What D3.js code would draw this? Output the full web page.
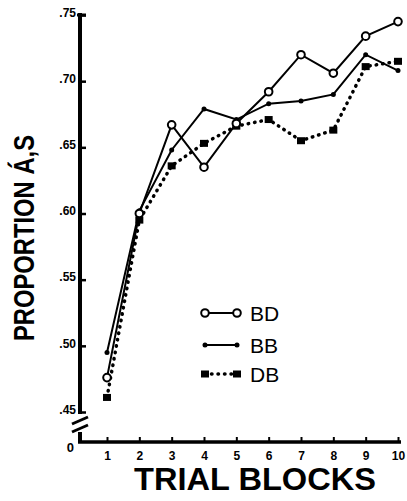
<!DOCTYPE html>
<html>
<head>
<meta charset="utf-8">
<script src="https://cdn.jsdelivr.net/npm/d3@7"></script>
<style>
  body { margin: 0; background: #fff; }
  text { fill: #000; }
</style>
</head>
<body>
<div id="chart"></div>
<script>
var blocks = [1, 2, 3, 4, 5, 6, 7, 8, 9, 10];
var bd = [0.476, 0.600, 0.667, 0.635, 0.668, 0.692, 0.720, 0.706, 0.734, 0.745];
var bb = [0.495, 0.602, 0.648, 0.679, 0.671, 0.683, 0.685, 0.690, 0.720, 0.708];
var db = [0.461, 0.595, 0.636, 0.653, 0.666, 0.671, 0.655, 0.663, 0.711, 0.715];
var yTicks = [0.45, 0.50, 0.55, 0.60, 0.65, 0.70, 0.75];
var legendNames = ["BD", "BB", "DB"];

var width = 407, height = 501;

var svg = d3.select("#chart").append("svg")
  .attr("width", width)
  .attr("height", height);

var x = d3.scaleLinear().domain([1, 10]).range([107, 398]);
var y = d3.scaleLinear().domain([0.45, 0.75]).range([412, 15]);
var axisY0 = 442, axisX0 = 80;

// y axis
var yAxis = svg.append("g")
  .attr("transform", "translate(" + axisX0 + ",0)")
  .call(d3.axisLeft(y).tickValues(yTicks).tickSizeInner(-6).tickSizeOuter(0).tickPadding(4)
    .tickFormat(function(d) { return d3.format(".2f")(d).replace(/^0/, ""); }));
yAxis.select(".domain").attr("stroke-width", 4).attr("d", "M0," + (y(0.75) - 2) + "V" + (y(0.45) + 2));
yAxis.selectAll(".tick line").attr("stroke-width", 2.5);
yAxis.selectAll(".tick text")
  .style("font", "bold 12px 'Liberation Sans', Arial, sans-serif")
  .attr("dy", "0.1em");
// little cap on .75
svg.append("line").attr("x1", axisX0 - 3).attr("x2", axisX0 + 6)
  .attr("y1", y(0.75)).attr("y2", y(0.75)).attr("stroke", "#000").attr("stroke-width", 3);

// broken stub of y axis
svg.append("line").attr("x1", axisX0).attr("x2", axisX0)
  .attr("y1", 432).attr("y2", axisY0 + 1).attr("stroke", "#000").attr("stroke-width", 4);
[420, 428].forEach(function(yy) {
  svg.append("line").attr("x1", axisX0 - 8).attr("y1", yy + 4)
    .attr("x2", axisX0 + 8).attr("y2", yy - 3)
    .attr("stroke", "#000").attr("stroke-width", 3);
});
svg.append("text").attr("x", axisX0 - 6).attr("y", axisY0 + 10)
  .attr("text-anchor", "end")
  .style("font", "bold 13px 'Liberation Sans', Arial, sans-serif")
  .text("0");

// x axis
var xAxis = svg.append("g")
  .attr("transform", "translate(0," + axisY0 + ")")
  .call(d3.axisBottom(x).tickValues(blocks).tickSizeInner(-5).tickSizeOuter(0).tickPadding(9));
xAxis.select(".domain").attr("stroke-width", 3.5).attr("d", "M" + (axisX0 - 2) + ",0H" + 401);
xAxis.selectAll(".tick line").attr("stroke-width", 2);
xAxis.selectAll(".tick text")
  .style("font", "bold 12px 'Liberation Sans', Arial, sans-serif");

// axis titles
svg.append("text")
  .attr("x", 255).attr("y", 490)
  .attr("text-anchor", "middle")
  .attr("textLength", 242).attr("lengthAdjust", "spacingAndGlyphs")
  .style("font", "bold 31px 'Liberation Sans', Arial, sans-serif")
  .text("TRIAL BLOCKS");

svg.append("text")
  .attr("transform", "translate(34,238) rotate(-90)")
  .attr("text-anchor", "middle")
  .attr("textLength", 206).attr("lengthAdjust", "spacingAndGlyphs")
  .style("font", "bold 30px 'Liberation Sans', Arial, sans-serif")
  .text("PROPORTION A\u0301,S");

// series
var line = d3.line()
  .x(function(d, i) { return x(blocks[i]); })
  .y(function(d) { return y(d); });

svg.append("path").datum(db)
  .attr("fill", "none").attr("stroke", "#000")
  .attr("stroke-width", 3.5).attr("stroke-linecap", "round")
  .attr("stroke-dasharray", "0.5,6")
  .attr("d", line);

svg.append("path").datum(bb)
  .attr("fill", "none").attr("stroke", "#000").attr("stroke-width", 2)
  .attr("d", line);

svg.append("path").datum(bd)
  .attr("fill", "none").attr("stroke", "#000").attr("stroke-width", 2)
  .attr("d", line);

svg.selectAll("rect.db").data(db).enter().append("rect")
  .attr("class", "db")
  .attr("x", function(d, i) { return x(blocks[i]) - 4; })
  .attr("y", function(d) { return y(d) - 3.5; })
  .attr("width", 8).attr("height", 7)
  .attr("fill", "#000");

svg.selectAll("circle.bb").data(bb).enter().append("circle")
  .attr("class", "bb")
  .attr("cx", function(d, i) { return x(blocks[i]); })
  .attr("cy", function(d) { return y(d); })
  .attr("r", 2.5)
  .attr("fill", "#000");

svg.selectAll("circle.bd").data(bd).enter().append("circle")
  .attr("class", "bd")
  .attr("cx", function(d, i) { return x(blocks[i]); })
  .attr("cy", function(d) { return y(d); })
  .attr("r", 3.8)
  .attr("fill", "#fff").attr("stroke", "#000").attr("stroke-width", 2);

// legend
var legend = svg.append("g").attr("transform", "translate(205,313)");
var lx0 = 0, lx1 = 32, rowH = 32;
legendNames.forEach(function(name, i) {
  var g = legend.append("g").attr("transform", "translate(0," + (i * rowH - (i == 2 ? 3 : 0)) + ")");
  if (name == "BD") {
    g.append("line").attr("x1", lx0).attr("x2", lx1).attr("stroke", "#000").attr("stroke-width", 2);
    [lx0, lx1].forEach(function(cx) {
      g.append("circle").attr("cx", cx).attr("r", 3.8)
        .attr("fill", "#fff").attr("stroke", "#000").attr("stroke-width", 2);
    });
  } else if (name == "BB") {
    g.append("line").attr("x1", lx0).attr("x2", lx1).attr("stroke", "#000").attr("stroke-width", 2);
    [lx0, lx1].forEach(function(cx) {
      g.append("circle").attr("cx", cx).attr("r", 2.5).attr("fill", "#000");
    });
  } else {
    g.append("line").attr("x1", lx0).attr("x2", lx1)
      .attr("stroke", "#000").attr("stroke-width", 3.5).attr("stroke-linecap", "round")
      .attr("stroke-dasharray", "0.5,6");
    [lx0, lx1].forEach(function(cx) {
      g.append("rect").attr("x", cx - 4).attr("y", -3.5).attr("width", 8).attr("height", 7).attr("fill", "#000");
    });
  }
  g.append("text")
    .attr("x", 45).attr("y", 0).attr("dy", "0.36em")
    .style("font", "21px 'Liberation Sans', Arial, sans-serif")
    .text(name);
});
</script>
</body>
</html>
